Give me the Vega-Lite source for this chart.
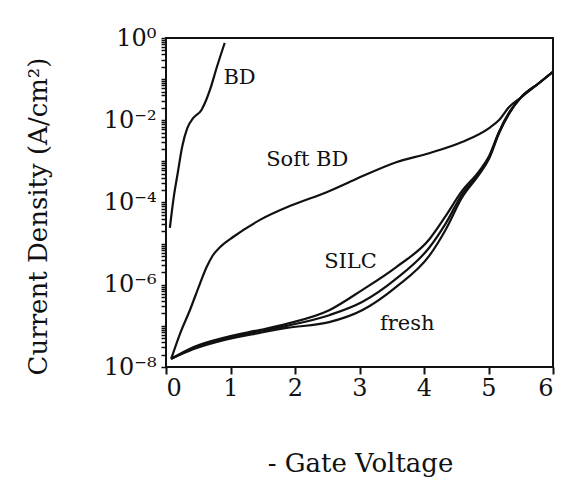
{
  "$schema": "https://vega.github.io/schema/vega-lite/v6.json",
  "width": 387,
  "height": 329,
  "autosize": "none",
  "padding": {"left": 166, "top": 38, "right": 9, "bottom": 112},
  "view": {"stroke": "#111", "strokeWidth": 2},
  "datasets": {
    "curves": [
      {"series": "BD", "v": 0.06, "j": 2.4e-5},
      {"series": "BD", "v": 0.12, "j": 1.35e-4},
      {"series": "BD", "v": 0.18, "j": 5.01e-4},
      {"series": "BD", "v": 0.25, "j": 2.24e-3},
      {"series": "BD", "v": 0.33, "j": 6.46e-3},
      {"series": "BD", "v": 0.42, "j": 1.12e-2},
      {"series": "BD", "v": 0.55, "j": 1.78e-2},
      {"series": "BD", "v": 0.62, "j": 3.02e-2},
      {"series": "BD", "v": 0.68, "j": 5.37e-2},
      {"series": "BD", "v": 0.79, "j": 0.2},
      {"series": "BD", "v": 0.91, "j": 0.759},

      {"series": "Soft BD", "v": 0.08, "j": 1.58e-8},
      {"series": "Soft BD", "v": 0.22, "j": 6.61e-8},
      {"series": "Soft BD", "v": 0.37, "j": 2.4e-7},
      {"series": "Soft BD", "v": 0.53, "j": 1.1e-6},
      {"series": "Soft BD", "v": 0.63, "j": 2.69e-6},
      {"series": "Soft BD", "v": 0.72, "j": 5.01e-6},
      {"series": "Soft BD", "v": 0.84, "j": 8.3e-6},
      {"series": "Soft BD", "v": 1.04, "j": 1.45e-5},
      {"series": "Soft BD", "v": 1.45, "j": 3.72e-5},
      {"series": "Soft BD", "v": 1.96, "j": 8.71e-5},
      {"series": "Soft BD", "v": 2.49, "j": 1.78e-4},
      {"series": "Soft BD", "v": 2.89, "j": 3.39e-4},
      {"series": "Soft BD", "v": 3.57, "j": 9.55e-4},
      {"series": "Soft BD", "v": 4.08, "j": 1.58e-3},
      {"series": "Soft BD", "v": 4.59, "j": 2.95e-3},
      {"series": "Soft BD", "v": 5.01, "j": 6.46e-3},
      {"series": "Soft BD", "v": 5.16, "j": 1.0e-2},
      {"series": "Soft BD", "v": 5.32, "j": 2.09e-2},
      {"series": "Soft BD", "v": 5.5, "j": 3.55e-2},
      {"series": "Soft BD", "v": 5.78, "j": 7.94e-2},
      {"series": "Soft BD", "v": 6.0, "j": 0.151},

      {"series": "SILC", "v": 0.08, "j": 1.58e-8},
      {"series": "SILC", "v": 0.42, "j": 3.02e-8},
      {"series": "SILC", "v": 0.94, "j": 5.37e-8},
      {"series": "SILC", "v": 1.45, "j": 7.94e-8},
      {"series": "SILC", "v": 1.87, "j": 1.12e-7},
      {"series": "SILC", "v": 2.53, "j": 2.4e-7},
      {"series": "SILC", "v": 3.04, "j": 7.41e-7},
      {"series": "SILC", "v": 3.57, "j": 2.69e-6},
      {"series": "SILC", "v": 4.08, "j": 1.26e-5},
      {"series": "SILC", "v": 4.34, "j": 4.79e-5},
      {"series": "SILC", "v": 4.59, "j": 1.91e-4},
      {"series": "SILC", "v": 4.85, "j": 5.62e-4},
      {"series": "SILC", "v": 5.01, "j": 1.35e-3},
      {"series": "SILC", "v": 5.16, "j": 5.13e-3},
      {"series": "SILC", "v": 5.32, "j": 1.55e-2},
      {"series": "SILC", "v": 5.5, "j": 3.55e-2},
      {"series": "SILC", "v": 5.78, "j": 7.94e-2},
      {"series": "SILC", "v": 6.0, "j": 0.151},

      {"series": "mid", "v": 0.08, "j": 1.58e-8},
      {"series": "mid", "v": 0.42, "j": 2.82e-8},
      {"series": "mid", "v": 0.94, "j": 5.01e-8},
      {"series": "mid", "v": 1.45, "j": 7.41e-8},
      {"series": "mid", "v": 1.87, "j": 1.0e-7},
      {"series": "mid", "v": 2.53, "j": 1.82e-7},
      {"series": "mid", "v": 3.04, "j": 3.8e-7},
      {"series": "mid", "v": 3.57, "j": 1.41e-6},
      {"series": "mid", "v": 4.08, "j": 7.94e-6},
      {"series": "mid", "v": 4.34, "j": 3.16e-5},
      {"series": "mid", "v": 4.59, "j": 1.58e-4},
      {"series": "mid", "v": 4.85, "j": 5.01e-4},
      {"series": "mid", "v": 5.01, "j": 1.26e-3},
      {"series": "mid", "v": 5.16, "j": 4.9e-3},
      {"series": "mid", "v": 5.32, "j": 1.48e-2},
      {"series": "mid", "v": 5.5, "j": 3.55e-2},
      {"series": "mid", "v": 5.78, "j": 7.94e-2},
      {"series": "mid", "v": 6.0, "j": 0.151},

      {"series": "fresh", "v": 0.08, "j": 1.58e-8},
      {"series": "fresh", "v": 0.42, "j": 2.69e-8},
      {"series": "fresh", "v": 0.94, "j": 4.68e-8},
      {"series": "fresh", "v": 1.45, "j": 6.76e-8},
      {"series": "fresh", "v": 1.87, "j": 8.91e-8},
      {"series": "fresh", "v": 2.53, "j": 1.23e-7},
      {"series": "fresh", "v": 3.04, "j": 2.4e-7},
      {"series": "fresh", "v": 3.57, "j": 8.91e-7},
      {"series": "fresh", "v": 4.08, "j": 5.01e-6},
      {"series": "fresh", "v": 4.34, "j": 2.24e-5},
      {"series": "fresh", "v": 4.59, "j": 1.32e-4},
      {"series": "fresh", "v": 4.85, "j": 4.68e-4},
      {"series": "fresh", "v": 5.01, "j": 1.17e-3},
      {"series": "fresh", "v": 5.16, "j": 4.68e-3},
      {"series": "fresh", "v": 5.32, "j": 1.45e-2},
      {"series": "fresh", "v": 5.5, "j": 3.55e-2},
      {"series": "fresh", "v": 5.78, "j": 7.94e-2},
      {"series": "fresh", "v": 6.0, "j": 0.151}
    ],
    "labels": [
      {"text": "BD", "v": 1.14, "j": 0.107},
      {"text": "Soft BD", "v": 2.19, "j": 1.07e-3},
      {"text": "SILC", "v": 2.86, "j": 3.55e-6},
      {"text": "fresh", "v": 3.74, "j": 1.1e-7}
    ]
  },
  "encoding": {
    "x": {
      "field": "v", "type": "quantitative",
      "scale": {"domain": [0, 6], "nice": false, "zero": false},
      "axis": {
        "tickCount": 6,
        "format": "d",
        "gridOpacity": 0,
        "domainColor": "#111",
        "tickColor": "#111", "tickSize": 7, "tickWidth": 2,
        "labelColor": "#111", "labelFont": "DejaVu Serif", "labelFontSize": 24, "labelPadding": 2,
        "title": "- Gate Voltage", "titleColor": "#111", "titleFont": "DejaVu Serif", "titleFontWeight": "normal", "titleFontSize": 26,
        "titleX": 194, "titleY": 96, "titleAlign": "center", "titleBaseline": "middle"
      }
    },
    "y": {
      "field": "j", "type": "quantitative",
      "scale": {"type": "log", "domain": [1e-8, 1], "nice": false},
      "axis": {
        "gridOpacity": 0,
        "domainColor": "#111",
        "tickColor": "#111", "tickSize": 5, "tickWidth": 1.5,
        "labelExpr": "abs(log(datum.value)/LN10 - round(log(datum.value)/LN10)) > 1e-6 ? '' : (round(log(datum.value)/LN10) == 0 ? '10⁰' : round(log(datum.value)/LN10) == -2 ? '10⁻²' : round(log(datum.value)/LN10) == -4 ? '10⁻⁴' : round(log(datum.value)/LN10) == -6 ? '10⁻⁶' : round(log(datum.value)/LN10) == -8 ? '10⁻⁸' : '')",
        "labelOverlap": false,
        "labelColor": "#111", "labelFont": "DejaVu Serif", "labelFontSize": 24, "labelPadding": 5, "labelBaseline": "middle",
        "title": "Current Density (A/cm²)", "titleColor": "#111", "titleFont": "DejaVu Serif", "titleFontWeight": "normal", "titleFontSize": 26,
        "titleX": -128, "titleY": 178, "titleAngle": -90, "titleAlign": "center", "titleBaseline": "middle"
      }
    }
  },
  "layer": [
    {
      "data": {"name": "curves"},
      "mark": {"type": "line", "color": "#111", "strokeWidth": 2.2, "interpolate": "monotone"},
      "encoding": {
        "detail": {"field": "series", "type": "nominal"}
      }
    },
    {
      "data": {"name": "labels"},
      "mark": {"type": "text", "color": "#111", "font": "DejaVu Serif", "fontSize": 21, "baseline": "middle", "align": "center"},
      "encoding": {
        "text": {"field": "text", "type": "nominal"}
      }
    }
  ]
}
